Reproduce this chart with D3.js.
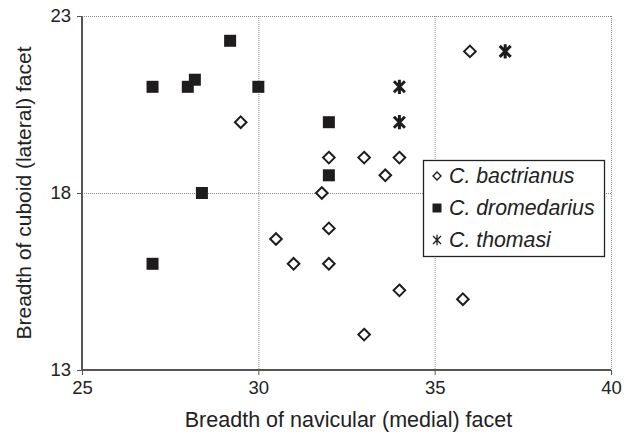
<!DOCTYPE html>
<html>
<head>
<meta charset="utf-8">
<script src="https://cdn.jsdelivr.net/npm/d3@7"></script>
<style>
  html, body { margin: 0; padding: 0; background: #fff; }
  svg { display: block; font-family: "Liberation Sans", Arial, sans-serif; }
</style>
</head>
<body>
<svg id="chart" width="632" height="439"></svg>
<script>
// Measurements of tarsal facets, in mm: [navicular breadth, cuboid breadth]
const bactrianus = [
  [29.5, 20], [32, 19], [33, 19], [34, 19], [31.8, 18], [33.6, 18.5],
  [36, 22], [30.5, 16.7], [31, 16], [32, 16], [32, 17], [34, 15.25],
  [35.8, 15], [33, 14]
];
const dromedarius = [
  [27, 21], [28, 21], [28.2, 21.2], [29.2, 22.3], [30, 21],
  [32, 20], [32, 18.5], [28.4, 18], [27, 16]
];
const thomasi = [[34, 21], [34, 20], [37, 22]];

const xTicks = [25, 30, 35, 40];
const yTicks = [13, 18, 23];
const seriesNames = ["C. bactrianus", "C. dromedarius", "C. thomasi"];
const xTitle = "Breadth of navicular (medial) facet";
const yTitle = "Breadth of cuboid (lateral) facet";

const svg = d3.select("#chart");
const ink = "#1e1c1c";
const axisCol = "#555";

const x = d3.scaleLinear().domain([25, 40]).range([82, 611]);
const y = d3.scaleLinear().domain([13, 23]).range([370, 16]);

// dotted grid (also forms the top and right frame)
const grid = svg.append("g").attr("stroke", "#8a8a8a").attr("stroke-width", 1)
  .attr("stroke-dasharray", "1,1");
grid.selectAll("line.v").data(xTicks.slice(1)).join("line")
  .attr("x1", d => x(d) + 0.5).attr("x2", d => x(d) + 0.5)
  .attr("y1", y(23)).attr("y2", y(13));
grid.selectAll("line.h").data(yTicks.slice(1)).join("line")
  .attr("x1", x(25)).attr("x2", x(40))
  .attr("y1", d => y(d) + 0.5).attr("y2", d => y(d) + 0.5);

// axes
const xAxis = d3.axisBottom(x).tickValues(xTicks).tickSize(5).tickPadding(6)
  .tickFormat(d3.format("d"));
const yAxis = d3.axisLeft(y).tickValues(yTicks).tickSize(5).tickPadding(6)
  .tickFormat(d3.format("d"));

const gx = svg.append("g").attr("transform", `translate(0,${y(13)})`).call(xAxis);
const gy = svg.append("g").attr("transform", `translate(${x(25)},0)`).call(yAxis);
[gx, gy].forEach(g => {
  g.select(".domain").attr("stroke", axisCol).attr("stroke-width", 2);
  g.selectAll(".tick line").attr("stroke", axisCol).attr("stroke-width", 1);
  g.selectAll(".tick text").attr("fill", "#222").attr("font-size", 18.5)
    .attr("font-family", "Liberation Sans, Arial, sans-serif");
});
gx.select(".domain").attr("d", `M${x(25)},0H${x(40)}`);
gy.select(".domain").attr("d", `M0,${y(23)}V${y(13)}`);

// axis titles
svg.append("text").attr("x", 348.5).attr("y", 427)
  .attr("text-anchor", "middle").attr("font-size", 21.5).attr("fill", "#222")
  .text(xTitle);
svg.append("text").attr("transform", `translate(31,${y(18)}) rotate(-90)`)
  .attr("text-anchor", "middle").attr("font-size", 21).attr("fill", "#222")
  .text(yTitle);

// marker drawers
function diamond(g, r, sw) {
  g.append("path").attr("d", `M0,${-r}L${r},0L0,${r}L${-r},0Z`)
    .attr("fill", "#fff").attr("stroke", ink).attr("stroke-width", sw);
}
function square(g, s) {
  g.append("rect").attr("x", -s / 2).attr("y", -s / 2).attr("width", s).attr("height", s)
    .attr("fill", ink);
}
function star(g, r, sw) {
  g.append("path")
    .attr("d", `M${-r},${-r}L${r},${r}M${-r},${r}L${r},${-r}M0,${-r * 1.3}V${r * 1.3}`)
    .attr("stroke", ink).attr("stroke-width", sw).attr("fill", "none");
}

const pts = svg.append("g");
pts.selectAll("g.b").data(bactrianus).join("g")
  .attr("transform", d => `translate(${x(d[0])},${y(d[1])})`)
  .each(function () { diamond(d3.select(this), 5.8, 2); });
pts.selectAll("g.d").data(dromedarius).join("g")
  .attr("transform", d => `translate(${x(d[0])},${y(d[1])})`)
  .each(function () { square(d3.select(this), 12); });
pts.selectAll("g.t").data(thomasi).join("g")
  .attr("transform", d => `translate(${x(d[0])},${y(d[1])})`)
  .each(function () { star(d3.select(this), 5.5, 3); });

// legend
const lg = svg.append("g").attr("transform", "translate(423,160)");
lg.append("rect").attr("x", 0.5).attr("y", 0.5).attr("width", 181).attr("height", 96)
  .attr("fill", "#fff").attr("stroke", "#222").attr("stroke-width", 1.3);
const rowY = [23, 55, 87];
const drawers = [
  g => diamond(g, 4, 1.4),
  g => square(g, 9),
  g => star(g, 4, 1.3)
];
seriesNames.forEach((name, i) => {
  const row = lg.append("g").attr("transform", `translate(0,${rowY[i]})`);
  drawers[i](row.append("g").attr("transform", "translate(14,-7)"));
  row.append("text").attr("x", 26).attr("y", 0).attr("font-size", 21.3)
    .attr("font-style", "italic").attr("fill", "#222").text(name);
});
</script>
</body>
</html>
